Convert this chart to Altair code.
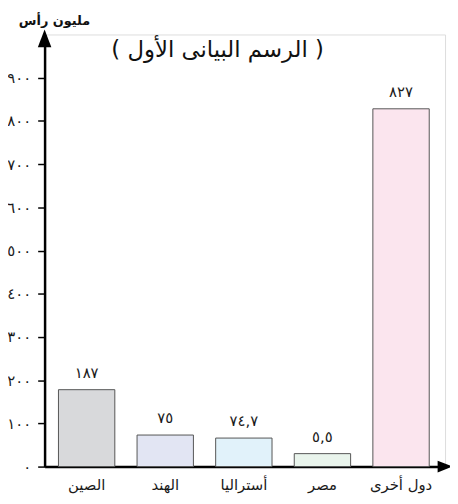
import altair as alt
import pandas as pd

# ---- data ----
categories = ["الصين", "الهند", "أستراليا", "مصر", "دول أخرى"]
bar_heights = [178, 73, 66, 30, 828]          # heights as drawn in the picture
value_labels = ["١٨٧", "٧٥", "٧٤,٧", "٥,٥", "٨٢٧"]
bar_colors = ["#d8d9db", "#e2e5f3", "#e1f2fa", "#e9f4ec", "#fbe5ee"]

y_major_ticks = [0, 100, 200, 300, 400, 500, 600, 700, 800, 900]
y_minor_ticks = [50, 150, 250, 350, 450, 550, 650, 750, 850]
y_tick_labels = ["٠", "١٠٠", "٢٠٠", "٣٠٠", "٤٠٠", "٥٠٠", "٦٠٠", "٧٠٠", "٨٠٠", "٩٠٠"]

title_text = "( الرسم البيانى الأول )"
y_unit_text = "مليون رأس"

FONT = "DejaVu Sans"
W, H = 405, 437

df = pd.DataFrame({
    "cat": categories,
    "h": bar_heights,
    "lbl": value_labels,
})

# label expression (Arabic-Indic numerals, minor ticks unlabeled)
expr = "''"
for v, t in reversed(list(zip(y_major_ticks, y_tick_labels))):
    expr = f"datum.value == {v} ? '{t}' : ({expr})"

x_enc = alt.X(
    "cat:N", sort=categories,
    scale=alt.Scale(paddingInner=0.283, paddingOuter=0.189, align=0.467),
    axis=alt.Axis(title=None, domainColor="black", domainWidth=2.5, ticks=False,
                  labelFontSize=15, labelPadding=11, labelColor="#1a1a1a",
                  labelAngle=0, labelFont=FONT),
)
y_enc = alt.Y(
    "h:Q",
    scale=alt.Scale(domain=[0, 1000], nice=False),
    axis=alt.Axis(title=None, values=sorted(y_major_ticks + y_minor_ticks),
                  labelExpr=expr, tickSize=7, tickWidth=1.5, tickColor="black",
                  domainColor="black", domainWidth=2.5, labelPadding=7,
                  labelFontSize=15, labelColor="#1a1a1a", labelFont=FONT, grid=False),
)

base = alt.Chart(df)

bars = base.mark_bar(stroke="#555555", strokeWidth=1).encode(
    x=x_enc, y=y_enc,
    color=alt.Color("cat:N", scale=alt.Scale(domain=categories, range=bar_colors), legend=None),
)

vals = base.mark_text(baseline="alphabetic", dy=-12, fontSize=15, font=FONT, color="#1a1a1a").encode(
    x=alt.X("cat:N", sort=categories), y="h:Q", text="lbl:N"
)

one = alt.Chart(pd.DataFrame({"a": [0]}))

y_arrow = one.mark_point(
    shape="M0,-1L0.76,1L-0.76,1Z", filled=True, color="black", opacity=1, size=324, strokeWidth=0
).encode(x=alt.value(0), y=alt.value(4))

x_arrow = one.mark_point(
    shape="M1,0L-1,-0.8L-1,0.8Z", filled=True, color="black", opacity=1, size=225, strokeWidth=0
).encode(x=alt.value(W), y=alt.value(H))

title = one.mark_text(fontSize=23, font=FONT, color="#111", baseline="middle").encode(
    x=alt.value(175), y=alt.value(16), text=alt.value(title_text)
)

unit = one.mark_text(fontSize=13, font=FONT, color="#111", fontWeight="bold", baseline="middle").encode(
    x=alt.value(10), y=alt.value(-14), text=alt.value(y_unit_text)
)

chart = alt.layer(bars, vals, y_arrow, x_arrow, title, unit).properties(
    width=W, height=H,
    autosize=alt.AutoSizeParams(type="none"),
    padding={"left": 37, "top": 24, "right": 5, "bottom": 30},
).configure_view(stroke=None).configure(background="white")

chart.save("out.html", embed_options={"renderer": "svg", "actions": False})
